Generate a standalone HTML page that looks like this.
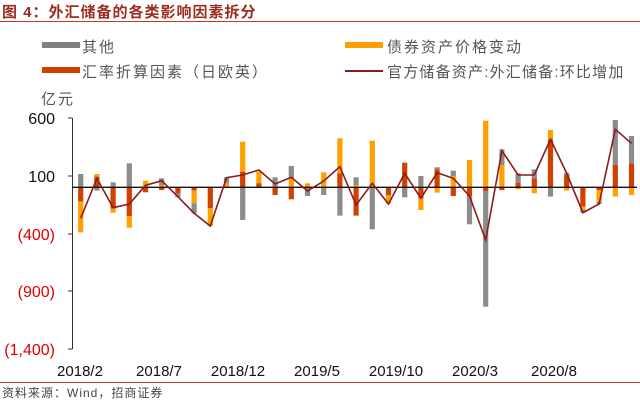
<!DOCTYPE html>
<html><head><meta charset="utf-8"><style>
html,body{margin:0;padding:0;background:#fff;}
body{width:640px;height:401px;overflow:hidden;position:relative;font-family:"Liberation Sans","Noto Sans CJK SC",sans-serif;}
.t{position:absolute;white-space:nowrap;}
</style></head><body>
<div class="t" style="left:2px;top:1px;font-size:15px;font-weight:bold;color:#9b2d20;letter-spacing:1px;">图 4：外汇储备的各类影响因素拆分</div>
<div style="position:absolute;left:0;top:21px;width:640px;height:1px;background:#c0392b;"></div>
<div style="position:absolute;left:42px;top:42px;width:38px;height:6px;background:#808080;"></div>
<div class="t" style="left:82px;top:36px;font-size:15px;color:#555;letter-spacing:2px;">其他</div>
<div style="position:absolute;left:345px;top:42px;width:38px;height:6px;background:#ffa000;"></div>
<div class="t" style="left:387px;top:36px;font-size:15px;color:#555;letter-spacing:2px;">债券资产价格变动</div>
<div style="position:absolute;left:42px;top:67px;width:38px;height:6px;background:#d04000;"></div>
<div class="t" style="left:82px;top:61px;font-size:15px;color:#555;letter-spacing:2px;">汇率折算因素（日欧英）</div>
<div style="position:absolute;left:345px;top:70px;width:38px;height:2px;background:#8b1a1a;"></div>
<div class="t" style="left:387px;top:61px;font-size:15px;color:#555;letter-spacing:1.2px;">官方储备资产:外汇储备:环比增加</div>
<div class="t" style="left:41px;top:88px;font-size:15px;color:#555;letter-spacing:2px;">亿元</div>
<svg id="c" width="640" height="401" style="position:absolute;left:0;top:0;" xmlns="http://www.w3.org/2000/svg"></svg>
<div style="position:absolute;left:0;top:382px;width:640px;height:1px;background:#c0392b;"></div>
<div class="t" style="left:2px;top:384px;font-size:12px;color:#444;letter-spacing:1px;">资料来源：Wind，招商证券</div>
<script>
var S=[
[['g',192,232],['r',232,275],['o',275,367]],
[['o',192,200],['r',200,232],['g',232,242]],
[['g',217,232],['r',232,296],['o',296,308]],
[['g',160,232],['r',232,318],['o',318,353]],
[['o',212,232],['r',232,247]],
[['g',205,225],['o',225,232],['r',232,240]],
[['r',232,250],['g',250,262]],
[['r',232,242],['o',242,280],['g',280,310]],
[['r',232,295],['o',295,348]],
[['g',202,220],['o',220,232]],
[['o',95,185],['r',185,232],['g',232,330]],
[['o',185,220],['r',220,232]],
[['g',202,232],['r',232,255]],
[['g',168,205],['o',205,232],['r',232,268]],
[['o',220,232],['g',232,258]],
[['o',187,232],['g',232,255]],
[['o',85,190],['r',190,232],['g',232,317]],
[['g',202,225],['o',225,232],['r',232,317]],
[['o',92,232],['g',232,358]],
[['r',232,255],['o',255,280]],
[['r',158,232],['g',232,262]],
[['g',198,232],['r',232,265],['o',265,300]],
[['g',172,178],['r',178,232],['o',232,248]],
[['g',182,198],['o',198,232],['r',232,258]],
[['o',150,232],['r',232,258],['g',258,343]],
[['o',32,232],['r',232,243],['g',243,590]],
[['g',118,165],['o',165,232],['r',232,240]],
[['g',190,218],['r',218,232],['o',232,238]],
[['g',178,205],['r',205,232],['o',232,250]],
[['o',60,90],['r',90,232],['g',232,260]],
[['g',188,195],['r',195,232],['o',232,242]],
[['r',232,290],['o',290,300],['g',300,308]],
[['r',232,240],['o',240,275],['g',275,282]],
[['g',30,165],['r',165,232],['o',232,260]],
[['g',78,160],['r',160,232],['o',232,255]]];
var L=[325,205,293,282,226,212,260,310,348,203,195,180,222,202,243,213,170,285,220,282,190,265,188,205,258,390,122,195,195,88,190,308,282,58,100];
var C={g:'#8c8c8c',o:'#ffa000',r:'#d04000'};
function Y(p){return 110+p/3;}
var h='';
h+='<line x1="72.5" y1="118" x2="72.5" y2="349" stroke="#333" stroke-width="1"/>';
[118,176,234,291,349].forEach(function(y,i){
 h+='<line x1="68" y1="'+y+'" x2="72.5" y2="'+y+'" stroke="#333" stroke-width="1"/>';
 var lab=['600','100','(400)','(900)','(1,400)'][i];
 h+='<text x="55" y="'+(y+6)+'" text-anchor="end" font-size="16" font-family="Liberation Sans,sans-serif" fill="'+(i>1?'#e00000':'#111')+'">'+lab+'</text>';
});
S.forEach(function(b,i){var x=80.7+i*16.2;b.forEach(function(s){
 h+='<rect x="'+(x-2.6).toFixed(1)+'" y="'+Y(s[1]).toFixed(1)+'" width="5.2" height="'+((s[2]-s[1])/3).toFixed(1)+'" fill="'+C[s[0]]+'"/>';});});
h+='<line x1="72.5" y1="187.3" x2="637" y2="187.3" stroke="#111" stroke-width="1.4"/>';
var pts=L.map(function(p,i){return (80.7+i*16.2).toFixed(1)+','+Y(p).toFixed(1);}).join(' ');
h+='<polyline points="'+pts+'" fill="none" stroke="#8b1a1a" stroke-width="1.6"/>';
['2018/2','2018/7','2018/12','2019/5','2019/10','2020/3','2020/8'].forEach(function(t,i){
 h+='<text x="'+(80+i*79).toFixed(1)+'" y="376" text-anchor="middle" font-size="15" font-family="Liberation Sans,sans-serif" fill="#111">'+t+'</text>';});
document.getElementById('c').innerHTML=h;
</script>
</body></html>
